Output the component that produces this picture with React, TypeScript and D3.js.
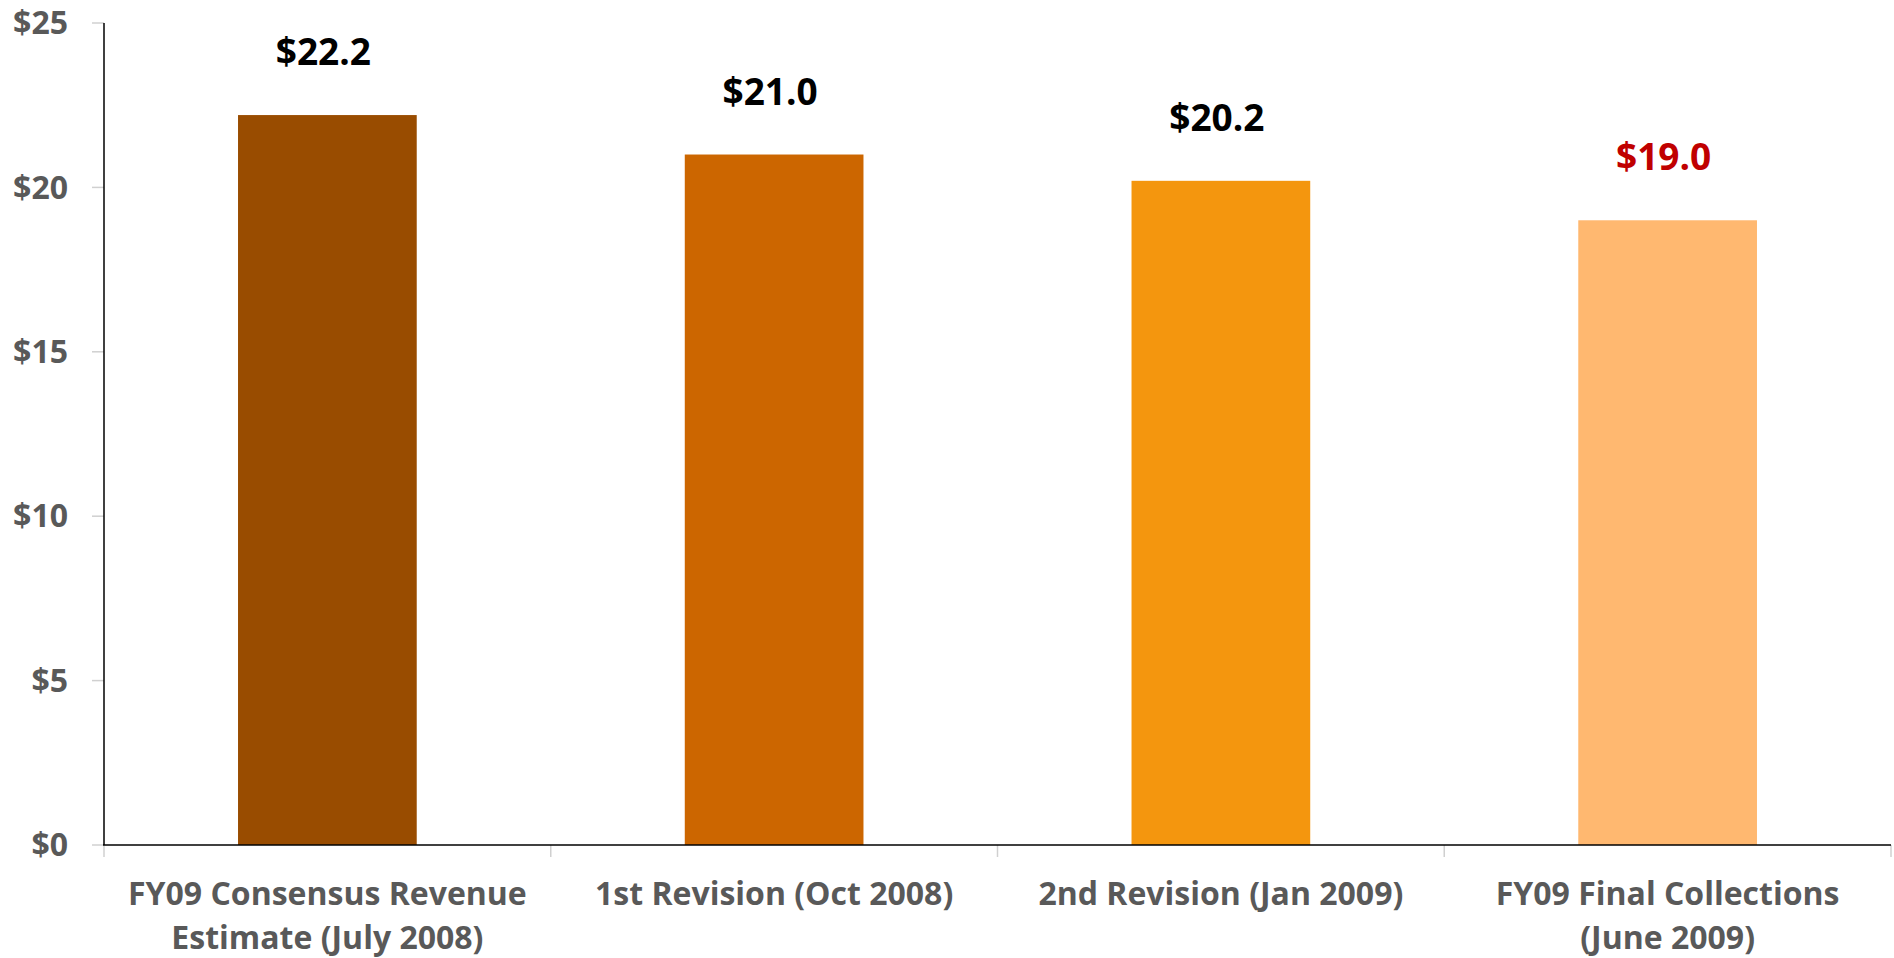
import React, { useEffect, useRef } from "react";
import * as d3 from "d3";

const categories = [
  ["FY09 Consensus Revenue", "Estimate (July 2008)"],
  ["1st Revision (Oct 2008)"],
  ["2nd Revision (Jan 2009)"],
  ["FY09 Final Collections", "(June 2009)"],
];
const values = [22.2, 21.0, 20.2, 19.0];
const barColors = ["#994C00", "#CC6600", "#F4960E", "#FFB870"];
const labelColors = ["#000000", "#000000", "#000000", "#C00000"];
const yTicks = [0, 5, 10, 15, 20, 25];

const width = 1894;
const height = 958;
const font = "'Open Sans', 'Noto Sans', sans-serif";

const App = () => {
  const chart = useRef<SVGSVGElement>(null);

  useEffect(() => {
    const svg = d3.select(chart.current);
    svg.selectAll("*").remove();

    const x = d3
      .scaleBand()
      .domain(categories.map((d, i) => String(i)))
      .range([104, 1891])
      .paddingInner(0.6)
      .paddingOuter(0.3);
    const y = d3.scaleLinear().domain([0, 25]).range([845, 23]);

    // y axis
    const yAxis = svg.append("g");
    yAxis
      .selectAll("line.tick")
      .data(yTicks)
      .join("line")
      .attr("class", "tick")
      .attr("x1", 92)
      .attr("x2", 104)
      .attr("y1", d => y(d))
      .attr("y2", d => y(d))
      .attr("stroke", "#d0d0d0")
      .attr("stroke-width", 1.5);
    yAxis
      .selectAll("text")
      .data(yTicks)
      .join("text")
      .attr("x", 68)
      .attr("y", d => y(d))
      .attr("dy", "0.35em")
      .attr("text-anchor", "end")
      .attr("font-family", font)
      .attr("font-weight", 700)
      .attr("font-size", 32)
      .attr("fill", "#595959")
      .text(d => `$${d}`);

    // category ticks
    const bounds = categories.map((d, i) => 104 + i * ((1891 - 104) / categories.length));
    bounds.push(1891);
    svg
      .append("g")
      .selectAll("line")
      .data(bounds)
      .join("line")
      .attr("x1", d => d)
      .attr("x2", d => d)
      .attr("y1", 845)
      .attr("y2", 857)
      .attr("stroke", "#d0d0d0")
      .attr("stroke-width", 1.5);

    // bars
    svg
      .append("g")
      .selectAll("rect")
      .data(values)
      .join("rect")
      .attr("x", (d, i) => x(String(i)) as number)
      .attr("y", d => y(d))
      .attr("width", x.bandwidth())
      .attr("height", d => y(0) - y(d))
      .attr("fill", (d, i) => barColors[i]);

    // value labels
    svg
      .append("g")
      .selectAll("text")
      .data(values)
      .join("text")
      .attr("x", (d, i) => (x(String(i)) as number) + x.bandwidth() / 2 - 4)
      .attr("y", d => y(d) - 50)
      .attr("text-anchor", "middle")
      .attr("font-family", font)
      .attr("font-weight", 700)
      .attr("font-size", 37)
      .attr("fill", (d, i) => labelColors[i])
      .text(d => `$${d.toFixed(1)}`);

    // axis lines
    svg
      .append("line")
      .attr("x1", 104)
      .attr("x2", 104)
      .attr("y1", 23)
      .attr("y2", 845)
      .attr("stroke", "#000")
      .attr("stroke-width", 1.5);
    svg
      .append("line")
      .attr("x1", 103)
      .attr("x2", 1891)
      .attr("y1", 845)
      .attr("y2", 845)
      .attr("stroke", "#000")
      .attr("stroke-width", 1.5);

    // category labels
    const cat = svg
      .append("g")
      .selectAll("text")
      .data(categories)
      .join("text")
      .attr("x", (d, i) => (x(String(i)) as number) + x.bandwidth() / 2)
      .attr("y", 905)
      .attr("text-anchor", "middle")
      .attr("font-family", font)
      .attr("font-weight", 700)
      .attr("font-size", 32)
      .attr("fill", "#595959");
    cat
      .selectAll("tspan")
      .data(d => d)
      .join("tspan")
      .attr("x", function () {
        return (this.parentNode as SVGTextElement).getAttribute("x");
      })
      .attr("dy", (d, i) => (i === 0 ? 0 : 44))
      .text(d => d);
  }, []);

  return (
    <svg
      ref={chart}
      width={width}
      height={height}
      viewBox={`0 0 ${width} ${height}`}
      style={{ position: "absolute", left: 0, top: 0, background: "#fff" }}
    ></svg>
  );
};

export default App;
